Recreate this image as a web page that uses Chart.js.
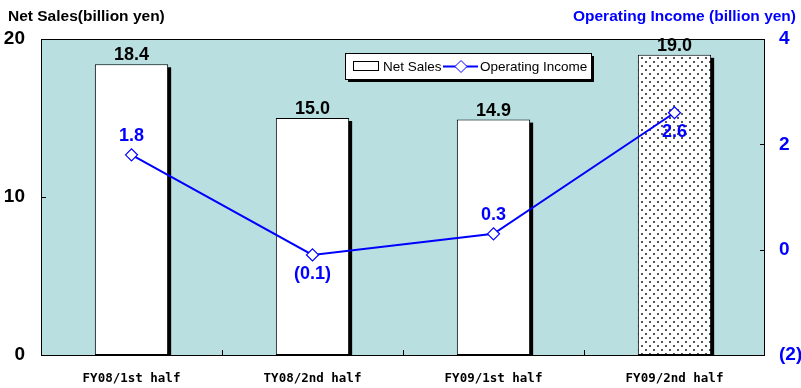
<!DOCTYPE html>
<html>
<head>
<meta charset="utf-8">
<script src="https://cdn.jsdelivr.net/npm/chart.js@4"></script>
<style>
  html, body { margin: 0; padding: 0; background: #fff; }
  #wrap { width: 801px; height: 388px; }
</style>
</head>
<body>
<div id="wrap"><canvas id="c" width="801" height="388"></canvas></div>
<script>
// Half-year results
const categories = ['FY08/1st half', 'TY08/2nd half', 'FY09/1st half', 'FY09/2nd half'];
const netSales = [18.4, 15.0, 14.9, 19.0];          // billion yen (left axis)
const operatingIncome = [1.8, -0.1, 0.3, 2.6];      // billion yen (right axis)
const salesTicks = [0, 10, 20];
const incomeTicks = [-2, 0, 2, 4];
// where each income label sits relative to its marker
const incomeLabelSide = ['above', 'below', 'above', 'below'];

const FONT = '"Liberation Sans", Arial, sans-serif';
const MONO = '"DejaVu Sans Mono", monospace';
const BLUE = '#0000ff';
const PLOT_BG = '#b9dfe1';

function fmtIncome(v) {
  return v < 0 ? '(' + Math.abs(v).toFixed(1) + ')' : v.toFixed(1);
}
function fmtTick(v) {
  return v < 0 ? '(' + Math.abs(v) + ')' : String(v);
}

// stippled fill for the latest half
const ctx0 = document.getElementById('c').getContext('2d');
function dotPattern() {
  const p = document.createElement('canvas');
  p.width = 8; p.height = 8;
  const g = p.getContext('2d');
  g.fillStyle = '#ffffff'; g.fillRect(0, 0, 8, 8);
  g.fillStyle = '#555555'; g.fillRect(1, 1, 2, 2); g.fillRect(5, 5, 2, 2);
  return ctx0.createPattern(p, 'repeat');
}
const barFills = netSales.map((_, i) => i === 3 ? dotPattern() : '#ffffff');

const framePlugin = {
  id: 'frame',
  beforeDraw(chart) {
    const { ctx, chartArea: a } = chart;
    ctx.save();
    ctx.fillStyle = PLOT_BG;
    ctx.fillRect(a.left, a.top, a.right - a.left, a.bottom - a.top);
    ctx.restore();
  },
  beforeDatasetDraw(chart, args) {
    if (args.index !== 0) return;
    const { ctx } = chart;
    ctx.save();
    ctx.fillStyle = '#000';
    args.meta.data.forEach(bar => {
      const w = bar.width;
      const left = bar.x - w / 2;
      ctx.fillRect(left + 3, bar.y + 3, w, bar.base - bar.y - 3);
    });
    ctx.restore();
  },
  afterDatasetsDraw(chart) {
    const { ctx, chartArea: a, scales } = chart;
    ctx.save();
    // plot frame
    ctx.strokeStyle = '#000';
    ctx.lineWidth = 1;
    ctx.strokeRect(a.left + 0.5, a.top + 0.5, a.right - a.left - 1, a.bottom - a.top);
    // small tick marks between categories and on both value axes
    ctx.beginPath();
    const step = (a.right - a.left) / categories.length;
    for (let i = 1; i < categories.length; i++) {
      const x = Math.round(a.left + step * i) + 0.5;
      ctx.moveTo(x, a.bottom);
      ctx.lineTo(x, a.bottom - 5);
    }
    salesTicks.forEach(v => {
      const y = Math.round(scales.y.getPixelForValue(v)) + 0.5;
      ctx.moveTo(a.left, y); ctx.lineTo(a.left + 5, y);
    });
    incomeTicks.forEach(v => {
      const y = Math.round(scales.y1.getPixelForValue(v)) + 0.5;
      ctx.moveTo(a.right, y); ctx.lineTo(a.right - 5, y);
    });
    ctx.stroke();

    // value labels over bars
    ctx.font = 'bold 18px ' + FONT;
    ctx.textAlign = 'center';
    ctx.textBaseline = 'alphabetic';
    ctx.fillStyle = '#000';
    chart.getDatasetMeta(0).data.forEach((bar, i) => {
      ctx.fillText(netSales[i].toFixed(1), bar.x, bar.y - 4);
    });
    // value labels on the income line
    ctx.fillStyle = BLUE;
    ctx.textBaseline = 'middle';
    chart.getDatasetMeta(1).data.forEach((pt, i) => {
      const dy = incomeLabelSide[i] === 'above' ? -19 : 19;
      ctx.fillText(fmtIncome(operatingIncome[i]), pt.x, pt.y + dy);
    });

    // axis titles
    ctx.font = 'bold 15.5px ' + FONT;
    ctx.textBaseline = 'middle';
    ctx.textAlign = 'left';
    ctx.fillStyle = '#000';
    ctx.fillText('Net Sales(billion yen)', 8, 17);
    ctx.textAlign = 'right';
    ctx.fillStyle = BLUE;
    ctx.fillText('Operating Income (billion yen)', 796, 17);

    // legend
    const lx = 345, ly = 53, lw = 246, lh = 26;
    ctx.fillStyle = '#000';
    ctx.fillRect(lx + 3, ly + 3, lw, lh);
    ctx.fillStyle = '#fff';
    ctx.fillRect(lx, ly, lw, lh);
    ctx.strokeStyle = '#000';
    ctx.strokeRect(lx + 0.5, ly + 0.5, lw, lh);
    ctx.strokeRect(lx + 8.5, ly + 8.5, 25, 9);
    ctx.font = '13.5px ' + FONT;
    ctx.textAlign = 'left';
    ctx.fillStyle = '#000';
    ctx.fillText('Net Sales', lx + 38, ly + 14);
    ctx.strokeStyle = BLUE;
    ctx.lineWidth = 2;
    ctx.beginPath();
    ctx.moveTo(lx + 98, ly + 13.5); ctx.lineTo(lx + 133, ly + 13.5);
    ctx.stroke();
    ctx.lineWidth = 1;
    ctx.fillStyle = '#fff';
    ctx.beginPath();
    const cx = lx + 116, cy = ly + 13.5;
    ctx.moveTo(cx, cy - 6); ctx.lineTo(cx + 6, cy); ctx.lineTo(cx, cy + 6); ctx.lineTo(cx - 6, cy); ctx.closePath();
    ctx.fill(); ctx.stroke();
    ctx.fillStyle = '#000';
    ctx.fillText('Operating Income', lx + 135, ly + 14);
    ctx.restore();
  }
};

new Chart(ctx0, {
  data: {
    labels: categories,
    datasets: [
      {
        type: 'bar',
        label: 'Net Sales',
        data: netSales,
        yAxisID: 'y',
        backgroundColor: barFills,
        borderColor: '#000',
        borderWidth: 1,
        borderSkipped: false,
        categoryPercentage: 1,
        barPercentage: 0.405,
        order: 2
      },
      {
        type: 'line',
        label: 'Operating Income',
        data: operatingIncome,
        yAxisID: 'y1',
        borderColor: BLUE,
        borderWidth: 2,
        pointStyle: 'rectRot',
        pointRadius: 6,
        pointBackgroundColor: '#fff',
        pointBorderColor: BLUE,
        pointBorderWidth: 1.2,
        tension: 0,
        order: 1
      }
    ]
  },
  options: {
    responsive: false,
    animation: false,
    devicePixelRatio: 1,
    layout: { padding: { top: 39, left: 0, right: 0, bottom: 0 } },
    plugins: { legend: { display: false }, tooltip: { enabled: false } },
    scales: {
      x: {
        grid: { display: false, drawTicks: false },
        border: { display: false },
        ticks: { color: '#000', font: { family: MONO, weight: 'bold', size: 12.5 }, padding: 16 },
        afterFit(s) { s.height = 33; }
      },
      y: {
        position: 'left',
        min: 0, max: 20,
        afterBuildTicks(s) { s.ticks = salesTicks.map(v => ({ value: v })); },
        grid: { display: false, drawTicks: false },
        border: { display: false },
        ticks: { color: '#000', font: { family: FONT, weight: 'bold', size: 19 }, padding: 16 },
        afterFit(s) { s.width = 41; }
      },
      y1: {
        position: 'right',
        min: -2, max: 4,
        afterBuildTicks(s) { s.ticks = incomeTicks.map(v => ({ value: v })); },
        grid: { display: false, drawTicks: false },
        border: { display: false },
        ticks: {
          color: BLUE, font: { family: FONT, weight: 'bold', size: 19 }, padding: 14,
          callback: v => fmtTick(v)
        },
        afterFit(s) { s.width = 36; }
      }
    }
  },
  plugins: [framePlugin]
});
</script>
</body>
</html>
